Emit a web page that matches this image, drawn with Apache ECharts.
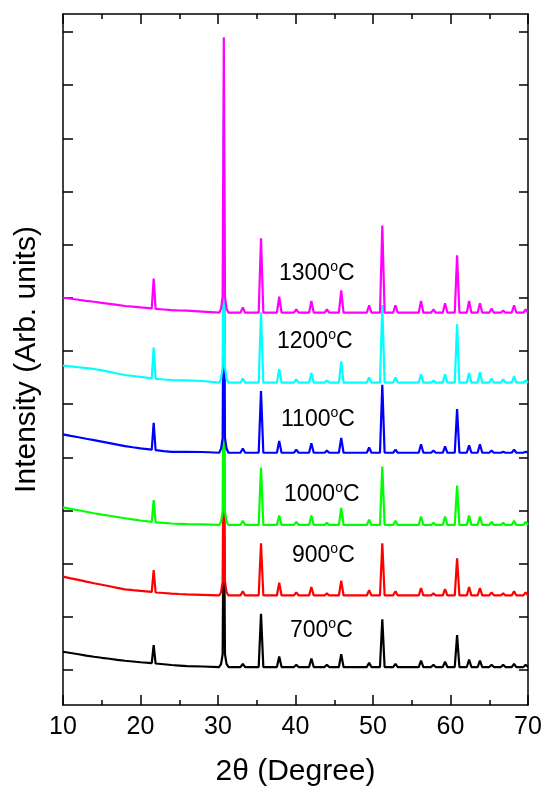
<!DOCTYPE html>
<html>
<head>
<meta charset="utf-8">
<script src="https://cdn.jsdelivr.net/npm/echarts@6/dist/echarts.min.js"></script>
<style>
  html, body { margin: 0; padding: 0; background: #fff; }
  #xrd { width: 544px; height: 786px; }
</style>
</head>
<body>
<div id="xrd"></div>
<script>
// 2theta points of the sloping background (below 28 deg)
var bgX = [10, 11, 12, 13, 14, 15, 16, 17, 18, 19, 20, 21.45, 21.95, 23, 24, 25, 26, 28];
// peak positions above 28 deg (first one is the main peak)
var peaks = [30.75, 33.2, 35.55, 37.9, 40.1, 42.05, 44.05, 45.9, 49.5, 51.2, 52.9,
             56.2, 57.8, 59.3, 60.85, 62.4, 63.8, 65.3, 66.8, 68.2, 69.7];
var sampleNames = ["700", "900", "1000", "1100", "1200", "1300"];
var yTicks = [0, 50, 100, 150, 200, 250, 300, 350, 400, 450, 500, 550, 600];

// background, each sample
var bg700  = [17.2, 16.0, 14.8, 13.6, 12.5, 11.5, 10.6, 9.6, 8.7, 8.0, 7.3, 6.5, 6.1, 5.4, 4.7, 4.2, 3.7, 3.3];
var bg900  = [87.8, 86.2, 84.7, 83.1, 81.6, 80.2, 78.8, 77.3, 75.9, 75.1, 74.4, 73.4, 72.9, 72.4, 71.9, 71.5, 71.2, 70.7];
var bg1000 = [153.0, 151.6, 150.2, 148.8, 147.4, 146.2, 145.1, 143.9, 142.7, 141.6, 140.6, 139.3, 138.8, 138.3, 137.8, 137.5, 137.2, 136.9];
var bg1100 = [221.6, 220.2, 218.9, 217.5, 216.2, 214.8, 213.4, 212.0, 210.6, 209.5, 208.5, 207.2, 206.7, 205.9, 205.2, 205.1, 205.1, 205.0];
var bg1200 = [286.2, 285.5, 284.7, 283.9, 283.1, 281.7, 280.3, 278.8, 277.4, 276.5, 275.6, 274.3, 273.8, 273.2, 272.7, 272.5, 272.3, 271.8];
var bg1300 = [350.1, 349.1, 348.2, 347.2, 346.3, 345.3, 344.3, 343.3, 342.3, 341.7, 341.0, 340.1, 339.6, 339.0, 338.4, 338.1, 337.9, 337.1];

// top of the 21.7 deg peak
var top21 = [23.3, 93.9, 159.8, 232.4, 303.3, 368.2];
// flat baseline above 28 deg
var flat = [2.8, 70.1, 136.4, 204.3, 270.2, 336.0];
// foot and shoulder of the main peak, above the flat baseline
var mainFoot = [3, 3, 3, 4, 4, 4];
var mainShoulder = [12, 13, 13, 14, 15, 15];

// peak heights above the flat baseline
var h700  = [179, 3, 50, 10, 2, 8, 2, 12, 4, 45, 3, 6, 2, 5, 30, 7, 6, 2, 2, 3, 2];
var h900  = [183, 4, 49, 12, 3, 8, 2, 14, 5, 49, 4, 7, 2, 6, 35, 8, 7, 3, 2, 4, 3];
var h1000 = [193, 4, 54, 9, 3, 9, 2, 16, 5, 55, 4, 8, 2, 8, 37, 9, 8, 3, 2, 4, 3];
var h1100 = [219, 4, 58, 11, 3, 9, 2, 14, 5, 64, 3, 8, 2, 6, 41, 7, 8, 2, 1, 3, 1];
var h1200 = [250, 4, 66, 13, 3, 9, 2, 20, 5, 73, 5, 8, 2, 8, 55, 9, 10, 4, 3, 6, 2];
var h1300 = [259, 5, 70, 15, 3, 11, 3, 21, 7, 82, 7, 11, 3, 9, 54, 11, 9, 4, 2, 7, 3];

var colors = ["#000000", "#FF0000", "#00FF00", "#0000FF", "#00FFFF", "#FF00FF"];

function buildCurve(k) {
  var bg = bgs[k], base = flat[k], heights = hs[k];
  var pts = [];
  for (var i = 0; i < bgX.length; i++) {
    pts.push([bgX[i], bg[i]]);
    if (bgX[i] === 21.45) pts.push([21.7, top21[k]]);
  }
  for (var j = 0; j < peaks.length; j++) {
    var p = peaks[j];
    if (j === 0) {
      // main peak has a wider foot
      pts.push([p - 0.6, base]);
      pts.push([p - 0.35, base + mainFoot[k]]);
      pts.push([p - 0.15, base + mainShoulder[k]]);
      pts.push([p, base + heights[j]]);
      pts.push([p + 0.15, base + mainShoulder[k]]);
      pts.push([p + 0.35, base + mainFoot[k]]);
      pts.push([p + 0.6, base]);
    } else {
      pts.push([p - 0.3, base]);
      pts.push([p, base + heights[j]]);
      pts.push([p + 0.3, base]);
    }
  }
  pts.push([70, base]);
  return pts;
}

var bgs = [bg700, bg900, bg1000, bg1100, bg1200, bg1300];
var hs = [h700, h900, h1000, h1100, h1200, h1300];

var series = [];
for (var k = 0; k < sampleNames.length; k++) {
  series.push({
    name: sampleNames[k],
    type: "line",
    showSymbol: false,
    symbol: "none",
    lineStyle: { width: 2.2, color: colors[k] },
    itemStyle: { color: colors[k] },
    data: buildCurve(k)
  });
}

var font = "'Liberation Sans', Arial, sans-serif";
var axisLine = { show: true, onZero: false, lineStyle: { color: "#000", width: 1.5 } };

// temperature labels
var tempLabels = [
  { t: "1300", x: 279, y: 274 },
  { t: "1200", x: 277, y: 342 },
  { t: "1100", x: 281, y: 420 },
  { t: "1000", x: 284, y: 495 },
  { t: "900", x: 292, y: 556 },
  { t: "700", x: 290, y: 631 }
];

var myChart = echarts.init(document.getElementById("xrd"));
var option = {
  animation: false,
  grid: { left: 63, right: 16, top: 14, bottom: 81, outerBoundsMode: "none", containLabel: false },
  xAxis: [
    {
      type: "value",
      min: 10,
      max: 70,
      interval: 10,
      position: "bottom",
      axisLine: axisLine,
      axisTick: { inside: true, length: 10, lineStyle: { color: "#000", width: 1.5 } },
      minorTick: { show: true, splitNumber: 2, length: 5, lineStyle: { color: "#000", width: 1.5 } },
      splitLine: { show: false },
      axisLabel: { color: "#000", fontSize: 25, fontFamily: font, margin: 10 },
      name: "2\u03B8 (Degree)",
      nameLocation: "middle",
      nameGap: 52,
      nameTextStyle: { color: "#000", fontSize: 30, fontFamily: font }
    },
    {
      type: "value",
      min: 10,
      max: 70,
      interval: 10,
      position: "top",
      axisLine: axisLine,
      axisTick: { inside: true, length: 10, lineStyle: { color: "#000", width: 1.5 } },
      minorTick: { show: true, splitNumber: 2, length: 5, lineStyle: { color: "#000", width: 1.5 } },
      splitLine: { show: false },
      axisLabel: { show: false }
    }
  ],
  yAxis: [
    {
      type: "value",
      min: -32.9,
      max: 616.9,
      position: "left",
      axisLine: axisLine,
      axisTick: { show: true, inside: true, length: 10, customValues: yTicks, lineStyle: { color: "#000", width: 1.5 } },
      splitLine: { show: false },
      axisLabel: { show: false },
      name: "Intensity (Arb. units)",
      nameLocation: "middle",
      nameGap: 21,
      nameTextStyle: { color: "#000", fontSize: 30, fontFamily: font }
    },
    {
      type: "value",
      min: -32.9,
      max: 616.9,
      position: "right",
      axisLine: axisLine,
      axisTick: { show: true, inside: true, length: 9, customValues: yTicks, lineStyle: { color: "#000", width: 1.5 } },
      splitLine: { show: false },
      axisLabel: { show: false }
    }
  ],
  graphic: tempLabels.map(function (l) {
    return {
      type: "text",
      x: l.x,
      y: l.y,
      z: 100,
      style: {
        text: "{n|" + l.t + "}{s|o}{n|C}",
        fill: "#000",
        verticalAlign: "middle",
        rich: {
          n: { fontSize: 23, fontFamily: font, fill: "#000", lineHeight: 26 },
          s: { fontSize: 14, fontFamily: font, fill: "#000", padding: [0, 0, 13, 0] }
        }
      }
    };
  }),
  series: series
};
myChart.setOption(option);
window.addEventListener("resize", () => {
  myChart.resize();
});
</script>
</body>
</html>
